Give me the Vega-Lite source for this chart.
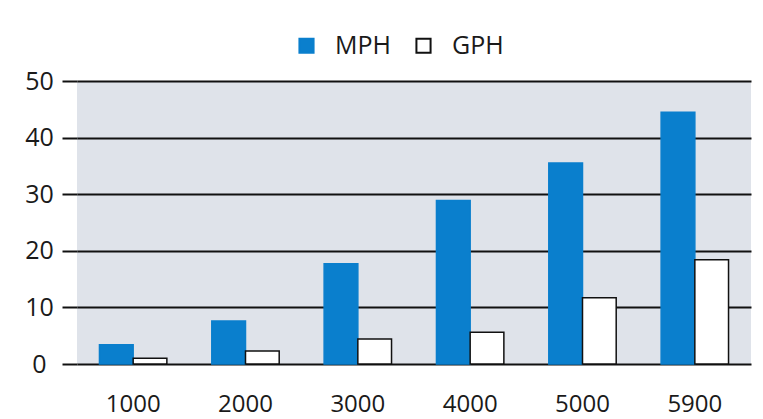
{
  "$schema": "https://vega.github.io/schema/vega-lite/v6.json",
  "width": 674,
  "height": 283,
  "padding": {"left": 24, "top": 33, "right": 8, "bottom": 4},
  "background": "white",
  "data": {
    "values": [
      {"rpm": "1000", "series": "MPH", "value": 3.4},
      {"rpm": "1000", "series": "GPH", "value": 1.0},
      {"rpm": "2000", "series": "MPH", "value": 7.6},
      {"rpm": "2000", "series": "GPH", "value": 2.3},
      {"rpm": "3000", "series": "MPH", "value": 17.7},
      {"rpm": "3000", "series": "GPH", "value": 4.4},
      {"rpm": "4000", "series": "MPH", "value": 28.9},
      {"rpm": "4000", "series": "GPH", "value": 5.6},
      {"rpm": "5000", "series": "MPH", "value": 35.5},
      {"rpm": "5000", "series": "GPH", "value": 11.7},
      {"rpm": "5900", "series": "MPH", "value": 44.5},
      {"rpm": "5900", "series": "GPH", "value": 18.4}
    ]
  },
  "mark": {"type": "bar", "strokeWidth": 1.5},
  "encoding": {
    "x": {
      "field": "rpm",
      "type": "ordinal",
      "sort": ["1000", "2000", "3000", "4000", "5000", "5900"],
      "scale": {"paddingInner": 0.4, "paddingOuter": 0.2},
      "axis": {
        "title": null,
        "labelAngle": 0,
        "ticks": false,
        "domain": false,
        "labelPadding": 28,
        "labelFontSize": 24,
        "labelFont": "Open Sans",
        "labelColor": "#1a1a1a"
      }
    },
    "xOffset": {"field": "series", "sort": ["MPH", "GPH"]},
    "y": {
      "field": "value",
      "type": "quantitative",
      "scale": {"domain": [0, 50]},
      "axis": {
        "title": null,
        "values": [0, 10, 20, 30, 40, 50],
        "grid": true,
        "gridColor": "#111111",
        "gridWidth": 2,
        "gridOpacity": 1,
        "domain": false,
        "ticks": true,
        "tickSize": 15,
        "tickWidth": 2,
        "tickColor": "#111111",
        "labelPadding": 23,
        "labelAlign": "center",
        "labelFontSize": 25,
        "labelFont": "Open Sans",
        "labelColor": "#1a1a1a"
      }
    },
    "fill": {
      "field": "series",
      "type": "nominal",
      "scale": {"domain": ["MPH", "GPH"], "range": ["#0a7fcd", "#ffffff"]},
      "legend": {
        "title": null,
        "orient": "none",
        "legendX": 217,
        "legendY": -48,
        "direction": "horizontal",
        "symbolType": "square",
        "symbolSize": 200,
        "symbolStrokeWidth": 2,
        "labelFontSize": 25,
        "labelFont": "Open Sans",
        "labelColor": "#1a1a1a",
        "labelOffset": 16,
        "columnPadding": 20
      }
    },
    "stroke": {
      "field": "series",
      "type": "nominal",
      "scale": {"domain": ["MPH", "GPH"], "range": ["#0a7fcd", "#111111"]},
      "legend": {
        "title": null,
        "orient": "none",
        "legendX": 217,
        "legendY": -48,
        "direction": "horizontal",
        "symbolType": "square",
        "symbolSize": 200,
        "symbolStrokeWidth": 2,
        "labelFontSize": 25,
        "labelFont": "Open Sans",
        "labelColor": "#1a1a1a",
        "labelOffset": 16,
        "columnPadding": 20
      }
    }
  },
  "config": {
    "view": {"fill": "#dfe3ea", "stroke": null}
  }
}
